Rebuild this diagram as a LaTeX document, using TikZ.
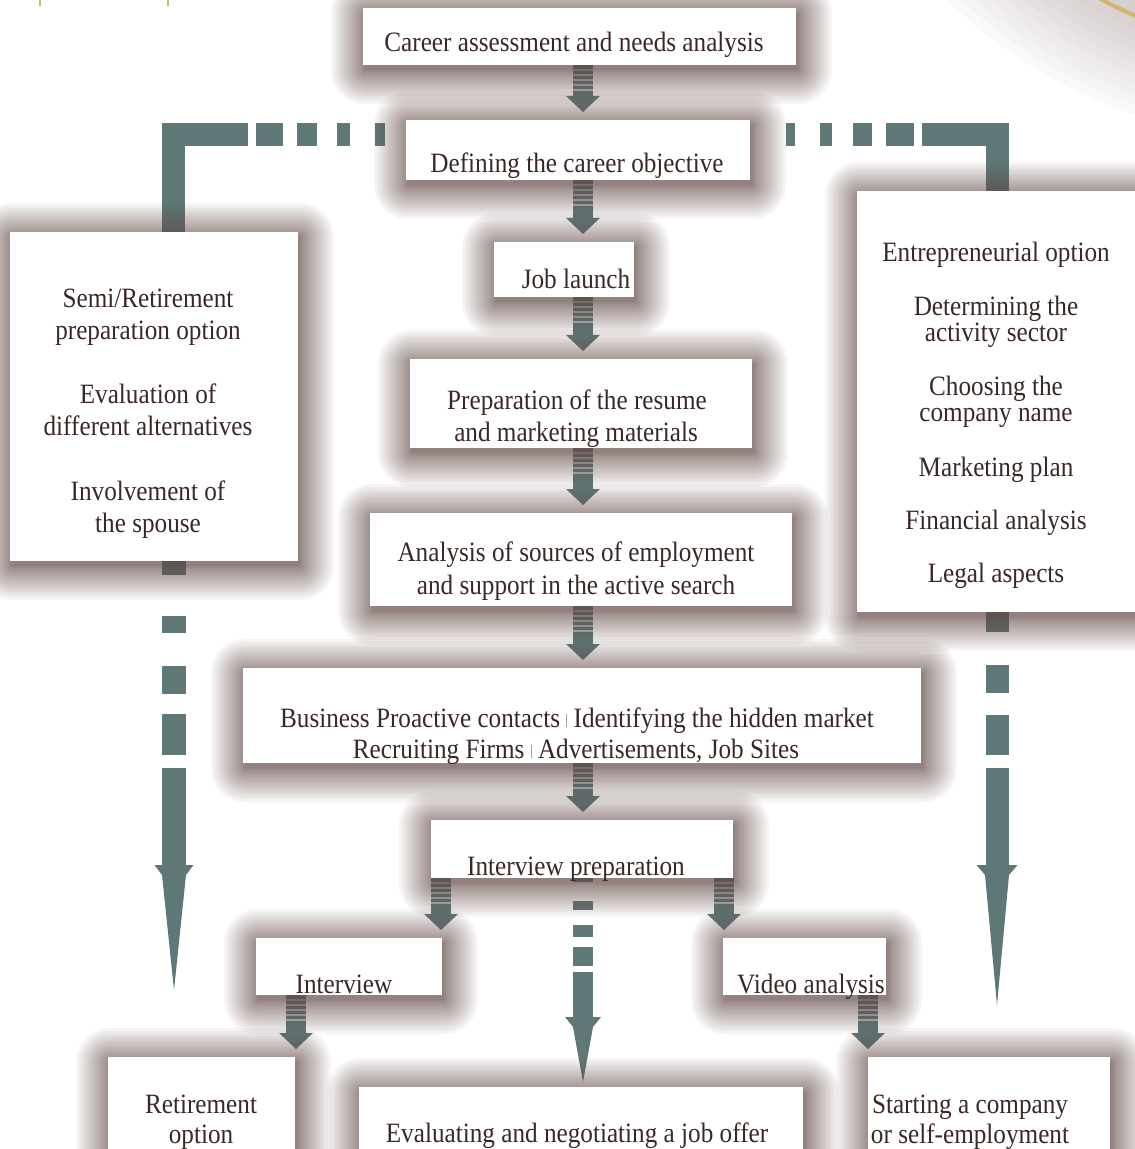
\documentclass[tikz,border=0pt]{standalone}
\usepackage{fontspec}
\setmainfont[FakeStretch=0.9]{Liberation Serif}
\usetikzlibrary{calc}
\pgfdeclarelayer{deco}\pgfdeclarelayer{conn}\pgfdeclarelayer{shad}
\pgfsetlayers{deco,conn,shad,main}
\definecolor{arrowc}{RGB}{94,120,120}
\definecolor{shadowc}{RGB}{100,76,72}
\definecolor{textc}{RGB}{58,40,38}
\definecolor{sepc}{RGB}{150,165,165}
\definecolor{goldc}{RGB}{215,180,110}
\tikzset{
 box/.style={fill=white, draw=none, inner sep=0pt, outer sep=0pt},
 txt/.style={anchor=base, inner sep=0pt, text=textc, font=\fontsize{14pt}{16pt}\selectfont},
 bigline/.style={draw=arrowc, line join=miter, line cap=butt},
}
\newcommand\mkbox[5]{\node[box, minimum width={(#4-#2)*0.5pt}, minimum height={(#5-#3)*0.5pt}] (#1) at ({(#2+#4)/2},{(#3+#5)/2}) {};
 \begin{pgfonlayer}{shad}\foreach \i in {1,...,20}{\pgfmathsetmacro\e{34*(\i/20)^1.7}\fill[shadowc, opacity=0.058, rounded corners={\e*0.5pt}] ($(#1.south west)+({-\e+2},{\e+5})$) rectangle ($(#1.north east)+({\e+2},{-\e+5})$);}\end{pgfonlayer}}
\newcommand\sarrow[3]{\begin{pgfonlayer}{conn}
 \path (#1 |- #2.south) coordinate (sa) (#1 |- #3.north) coordinate (sb);
 \fill[arrowc] ($(sa)+(-10,0)$) rectangle ($(sb)+(10,-24)$);
 \foreach \k in {4,9,14,19,24}{\fill[white, opacity=0.55] ($(sa)+(-10,\k)$) rectangle ($(sa)+(10,{\k+1.6})$);}
 \fill[arrowc] ($(sb)+(-17,-24)$) -- ($(sb)+(17,-24)$) -- ($(sb)+(0,-8)$) -- cycle;
 \end{pgfonlayer}}
\newcommand\bighead[4]{% top coord, tip coord, half width, half inner
 \fill[arrowc] ($(#1)+(-#3,0)$) -- ($(#1)+(#3,0)$) -- ($(#1)+(#4,10)$) -- (#2) -- ($(#1)+(-#4,10)$) -- cycle;}
\newcommand\sepbar{\unskip\ \textcolor{sepc}{\rule{0.5pt}{6.5pt}}\ \ignorespaces}
\begin{document}
\begin{tikzpicture}[x=0.5pt,y=-0.5pt]
\useasboundingbox (0,0) rectangle (1134,1149);
% boxes
\mkbox{career}{363}{8}{796}{65}
\mkbox{defining}{406}{120}{750}{180}
\mkbox{launch}{494}{242}{634}{297}
\mkbox{prep}{410}{359}{752}{448}
\mkbox{sources}{370}{513}{792}{606}
\mkbox{business}{243}{668}{921}{763}
\mkbox{ivprep}{431}{820}{733}{878}
\mkbox{interview}{256}{938}{442}{995}
\mkbox{video}{723}{938}{886}{995}
\mkbox{retire}{108}{1057}{295}{1170}
\mkbox{evaluate}{359}{1087}{803}{1170}
\mkbox{starting}{868}{1057}{1110}{1170}
\mkbox{leftbox}{10}{232}{298}{561}
\mkbox{rightbox}{857}{191}{1145}{612}
% texts
\node[txt] (t1) at (574,52) {Career assessment and needs analysis};
\node[txt] (t2) at (577,173) {Defining the career objective};
\node[txt] (t3) at (576,289) {Job launch};
\node[txt] (t4a) at (577,409) {Preparation of the resume};
\node[txt] (t4b) at (576,441) {and marketing materials};
\node[txt] (t5a) at (576,561) {Analysis of sources of employment};
\node[txt] (t5b) at (576,594) {and support in the active search};
\node[txt] (t6a) at (577,727) {Business Proactive contacts\sepbar Identifying the hidden market};
\node[txt] (t6b) at (576,758) {Recruiting Firms\sepbar Advertisements, Job Sites};
\node[txt] (t7) at (576,875) {Interview preparation};
\node[txt] (t8) at (344,993) {Interview};
\node[txt] (t9) at (811,993) {Video analysis};
\node[txt] (t10a) at (201,1113) {Retirement};
\node[txt] (t10b) at (201,1143) {option};
\node[txt] (t11) at (577,1142) {Evaluating and negotiating a job offer};
\node[txt] (t12a) at (970,1113) {Starting a company};
\node[txt] (t12b) at (970,1143) {or self-employment};
\node[txt] (l1) at (148,308) {Semi/Retirement};
\node[txt] (l2) at (148,340) {preparation option};
\node[txt] (l3) at (148,404) {Evaluation of};
\node[txt] (l4) at (148,436) {different alternatives};
\node[txt] (l5) at (148,500) {Involvement of};
\node[txt] (l6) at (148,532) {the spouse};
\node[txt] (r1) at (996,262) {Entrepreneurial option};
\node[txt] (r2) at (996,316) {Determining the};
\node[txt] (r3) at (996,342) {activity sector};
\node[txt] (r4) at (996,396) {Choosing the};
\node[txt] (r5) at (996,422) {company name};
\node[txt] (r6) at (996,476) {Marketing plan};
\node[txt] (r7) at (996,529) {Financial analysis};
\node[txt] (r8) at (996,582) {Legal aspects};
% coordinates
\coordinate (xc) at (583,0);
\coordinate (xl) at (441,0);
\coordinate (xr) at (724,0);
\coordinate (xll) at (296,0);
\coordinate (xrr) at (868,0);
\coordinate (bl) at (173.5,0);
\coordinate (br) at (997.5,0);
\coordinate (ybr) at (0,134.5);
\coordinate (lhead) at (174,865);
\coordinate (ltip) at (174,990);
\coordinate (rhead) at (997,865);
\coordinate (rtip) at (997,1005);
\coordinate (chead) at (583,1017);
\coordinate (ctip) at (583,1082);
% small arrows
\sarrow{xc}{career}{defining}
\sarrow{xc}{defining}{launch}
\sarrow{xc}{launch}{prep}
\sarrow{xc}{prep}{sources}
\sarrow{xc}{sources}{business}
\sarrow{xc}{business}{ivprep}
\sarrow{xl}{ivprep}{interview}
\sarrow{xr}{ivprep}{video}
\sarrow{xll}{interview}{retire}
\sarrow{xrr}{video}{starting}
% big connectors
\begin{pgfonlayer}{conn}
\draw[bigline, line width=11.5pt, dash pattern=on 86pt off 4pt on 13.5pt off 7pt on 10pt off 10pt on 6.5pt off 12.5pt on 5pt off 200.5pt on 4.5pt off 12.5pt on 6pt off 10.5pt on 9.5pt off 7pt on 14pt off 4pt on 120pt]
 (bl |- leftbox.north) -- (bl |- ybr) -- (br |- ybr) -- (br |- rightbox.north);
\draw[bigline, line width=12pt, dash pattern=on 7pt off 20.5pt on 8.5pt off 16.5pt on 14pt off 10pt on 20.5pt off 6.5pt on 100pt]
 (lhead |- leftbox.south) -- (lhead);
\bighead{lhead}{ltip}{19.5}{12}
\draw[bigline, line width=11.5pt, dash pattern=on 10pt off 16.5pt on 14pt off 11pt on 20pt off 6.5pt on 100pt]
 (rhead |- rightbox.south) -- (rhead);
\bighead{rhead}{rtip}{20.5}{12}
\draw[bigline, line width=10pt, dash pattern=on 2pt off 9.5pt on 4.5pt off 7.5pt on 6pt off 5pt on 9.5pt off 3pt on 100pt]
 (chead |- ivprep.south) -- (chead);
\bighead{chead}{ctip}{18}{10}
\end{pgfonlayer}
% decorations
\begin{pgfonlayer}{deco}
\foreach \r in {400,410,...,490}{\fill[shadowc, opacity=0.03] (1290,-350) circle (\r);}
\draw[goldc, line width=2pt] (1290,-350) circle (397);
\draw[goldc, line width=1pt] (40,0) -- (40,6);
\draw[goldc, line width=1pt] (168,0) -- (168,6);
\end{pgfonlayer}
\end{tikzpicture}
\end{document}
